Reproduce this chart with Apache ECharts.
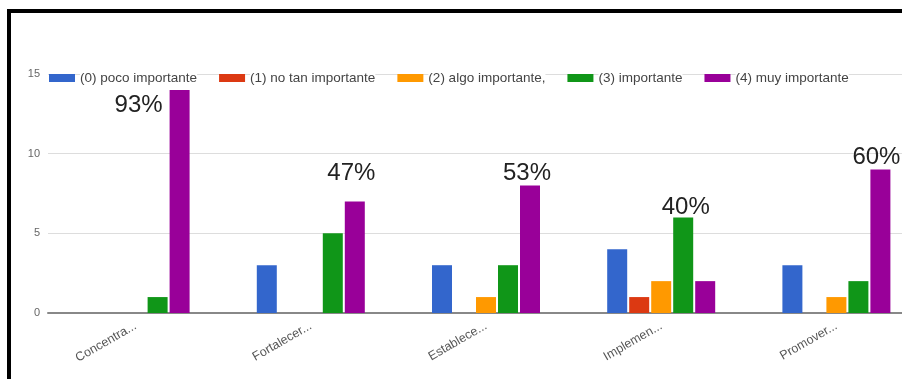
<!DOCTYPE html>
<html>
<head>
<meta charset="utf-8">
<script src="https://cdn.jsdelivr.net/npm/echarts@6/dist/echarts.min.js"></script>
<style>
html,body{margin:0;padding:0;background:#fff;overflow:hidden;width:902px;height:379px;}
#c{width:930px;height:379px;}
</style>
</head>
<body>
<div id="c"></div>
<script>
// ---- data ----
const categories = ['Concentra...', 'Fortalecer...', 'Establece...', 'Implemen...', 'Promover...'];
const seriesNames = ['(0) poco importante', '(1) no tan importante', '(2) algo importante,', '(3) importante', '(4) muy importante'];
const poco = [0, 3, 3, 4, 3];
const noTan = [0, 0, 0, 1, 0];
const algo = [0, 0, 1, 2, 1];
const importante = [1, 5, 3, 6, 2];
const muy = [14, 7, 8, 2, 9];
const yTicks = [0, 5, 10, 15];
// percentage annotations: [category index, series index, text]
const annotations = [
  [0, 4, '93%'],
  [1, 4, '47%'],
  [2, 4, '53%'],
  [3, 3, '40%'],
  [4, 4, '60%']
];
// ---- styling (not data) ----
const annotationOffsets = [[-31, 14], [6.5, -29], [7, -13], [12.5, -11], [6, -13]];
const colors = ['#3366cc', '#dc3912', '#ff9900', '#109618', '#990099'];
const values = [poco, noTan, algo, importante, muy];

const series = values.map((arr, si) => ({
  name: seriesNames[si],
  type: 'bar',
  barWidth: 20,
  barGap: '10%',
  itemStyle: { color: colors[si] },
  data: arr.map((v, ci) => {
    const idx = annotations.findIndex(a => a[0] === ci && a[1] === si);
    if (idx < 0) return v;
    const off = annotationOffsets[idx];
    return {
      value: v,
      label: {
        show: true,
        formatter: annotations[idx][2],
        position: [off[0], off[1] + 1],
        align: 'center',
        verticalAlign: 'middle',
        fontFamily: 'Liberation Sans',
        fontSize: 24,
        color: '#222'
      }
    };
  })
}));

const chart = echarts.init(document.getElementById('c'), null, { renderer: 'canvas' });
chart.setOption({
  animation: false,
  backgroundColor: '#fff',
  color: colors,
  grid: { left: 48, top: 74, width: 876, height: 239 },
  legend: {
    left: 44,
    top: 66,
    itemWidth: 26,
    itemHeight: 8,
    itemGap: 22,
    icon: 'rect',
    textStyle: { fontFamily: 'Liberation Sans', fontSize: 13.5, color: '#444', backgroundColor: '#fff' },
    data: seriesNames
  },
  xAxis: {
    type: 'category',
    data: categories,
    axisLine: { lineStyle: { color: '#888', width: 2 } },
    axisTick: { show: false },
    axisLabel: { rotate: 30, margin: 12, fontFamily: 'Liberation Sans', fontSize: 12.5, color: '#555' }
  },
  yAxis: {
    type: 'value',
    min: yTicks[0],
    max: yTicks[yTicks.length - 1],
    interval: yTicks[1] - yTicks[0],
    axisLine: { show: false },
    axisTick: { show: false },
    splitLine: { lineStyle: { color: '#ddd', width: 1 } },
    axisLabel: { margin: 8, fontFamily: 'Liberation Sans', fontSize: 11, color: '#666' }
  },
  graphic: [
    { type: 'rect', shape: { x: 7, y: 9, width: 930, height: 4 }, style: { fill: '#000' }, z: 100 },
    { type: 'rect', shape: { x: 7, y: 9, width: 4, height: 380 }, style: { fill: '#000' }, z: 100 }
  ],
  series: series
});
</script>
</body>
</html>
